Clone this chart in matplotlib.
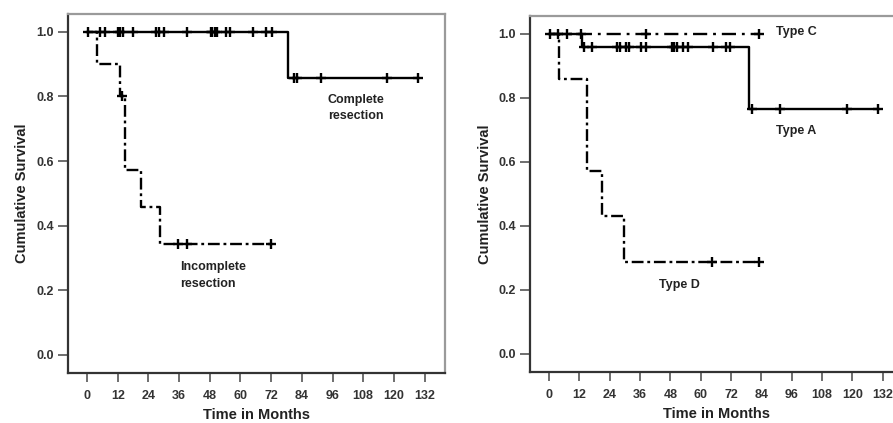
import numpy as np
import matplotlib
matplotlib.use("Agg")
import matplotlib.pyplot as plt

plt.rcParams["font.family"] = ["Liberation Sans", "DejaVu Sans"]

# ---- left panel: resection status ----
comp_times = [0, 78.5, 129.5]
comp_surv = [1.0, 0.857, 0.857]
comp_cens = [0.5, 5, 7, 12, 13, 14, 18, 27, 28, 30, 39, 48.5, 49, 50, 51,
             54.5, 56, 65, 70, 72.5, 81, 82, 91.5, 117.5, 129.5]

incomp_times = [0, 4, 12.8, 15, 21.2, 28.5, 72]
incomp_surv = [1.0, 0.9, 0.8, 0.571, 0.457, 0.343, 0.343]
incomp_cens = [13.5, 35.5, 39, 72]

# ---- right panel: tumour type ----
typeA_times = [0, 13, 79, 130]
typeA_surv = [1.0, 0.957, 0.766, 0.766]
typeA_cens = [13.8, 17, 27, 28, 30.5, 31.5, 36.5, 38.5, 48.5, 49.5, 50.5, 53,
              55, 65, 70, 71.5, 80.5, 91.5, 118, 130]

typeC_times = [0, 83]
typeC_surv = [1.0, 1.0]
typeC_cens = [0.3, 3.5, 7.3, 12.5, 38.3, 83]

typeD_times = [0, 4, 15.2, 21, 29.5, 83]
typeD_surv = [1.0, 0.857, 0.571, 0.429, 0.286, 0.286]
typeD_cens = [64.6, 83]

xticks = np.arange(0, 133, 12)
yticks = [0.0, 0.2, 0.4, 0.6, 0.8, 1.0]

DASHDOT = (0, (5, 1.6, 1.2, 1.6))


def km(ax, times, surv, cens, ls):
    ax.step(times, surv, where="post", color="black", lw=1.7, linestyle=ls)
    idx = np.searchsorted(times, cens, side="right") - 1
    cy = np.array(surv)[idx]
    ax.plot(cens, cy, linestyle="none", marker="+", color="black",
            markersize=6.5, markeredgewidth=1.7)


def style(ax):
    ax.set_xlim(-7.5, 140)
    ax.set_ylim(-0.056, 1.055)
    ax.set_xticks(xticks)
    ax.set_yticks(yticks)
    ax.set_yticklabels(["0.0", "0.2", "0.4", "0.6", "0.8", "1.0"])
    for s in ["left", "bottom"]:
        ax.spines[s].set_color("#333333")
        ax.spines[s].set_linewidth(1.6)
    for s in ["top", "right"]:
        ax.spines[s].set_color("#9a9a9a")
        ax.spines[s].set_linewidth(1.6)
    ax.tick_params(axis="y", length=7, width=1.2, color="#555555", pad=3,
                   labelsize=9)
    ax.tick_params(axis="x", length=6.5, width=1.2, color="#555555", pad=6,
                   labelsize=9)
    for lab in ax.get_xticklabels() + ax.get_yticklabels():
        lab.set_fontweight("bold")
        lab.set_color("#333333")
    ax.set_xlabel("Time in Months", fontsize=10.5, fontweight="bold",
                  color="#222222", labelpad=4)
    ax.set_ylabel("Cumulative Survival", fontsize=10.5, fontweight="bold",
                  color="#222222", labelpad=5)


fig = plt.figure(figsize=(8.93, 4.23), dpi=100)
ax1 = fig.add_axes([0.0761, 0.1182, 0.4222, 0.8487])
ax2 = fig.add_axes([0.5935, 0.1213, 0.4176, 0.8409])

km(ax1, comp_times, comp_surv, comp_cens, "-")
km(ax1, incomp_times, incomp_surv, incomp_cens, DASHDOT)
style(ax1)
ax1.text(94.2, 0.764, "Complete\nresection", fontsize=9, fontweight="bold",
         ha="left", va="center", linespacing=1.5, color="#222222")
ax1.text(36.2, 0.245, "Incomplete\nresection", fontsize=9, fontweight="bold",
         ha="left", va="center", linespacing=1.5, color="#222222")

km(ax2, typeC_times, typeC_surv, typeC_cens, (0, (6, 2.5, 1.2, 2.5)))
km(ax2, typeA_times, typeA_surv, typeA_cens, "-")
km(ax2, typeD_times, typeD_surv, typeD_cens, DASHDOT)
style(ax2)
ax2.text(89.7, 1.005, "Type C", fontsize=9, fontweight="bold",
         ha="left", va="center", color="#222222")
ax2.text(89.7, 0.695, "Type A", fontsize=9, fontweight="bold",
         ha="left", va="center", color="#222222")
ax2.text(43.4, 0.216, "Type D", fontsize=9, fontweight="bold",
         ha="left", va="center", color="#222222")

fig.savefig("out.png", dpi=100)
